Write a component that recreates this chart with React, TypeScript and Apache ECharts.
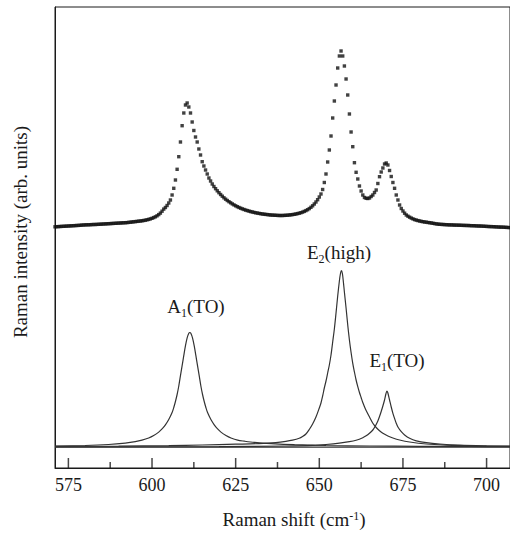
import React, { useEffect, useRef } from "react";
import * as echarts from "echarts";

// ---- Measured Raman spectrum (dots), x grid 571..707 cm-1 every 0.5 cm-1 ----
const measuredStart = 571;
const measuredStep = 0.5;
const measuredIntensity = [
  241.2, 241.3, 241.4, 241.5, 241.6, 241.7, 241.8, 241.9, 242.0, 242.1,
  242.2, 242.3, 242.4, 242.5, 242.6, 242.7, 242.9, 243.0, 243.1, 243.2,
  243.2, 243.3, 243.4, 243.5, 243.5, 243.6, 243.7, 243.8, 243.9, 244.0,
  244.1, 244.2, 244.3, 244.4, 244.5, 244.6, 244.7, 244.8, 244.9, 245.0,
  245.1, 245.2, 245.3, 245.4, 245.6, 245.8, 246.0, 246.2, 246.4, 246.6,
  246.8, 247.0, 247.2, 247.5, 247.8, 248.2, 248.6, 249.1, 249.7, 250.4,
  251.2, 252.2, 253.4, 254.9, 256.8, 258.9, 260.5, 262.5, 265.0, 268.0,
  273.0, 279.7, 288.0, 298.7, 311.3, 326.0, 342.3, 355.0, 363.0, 365.0,
  361.0, 355.0, 346.0, 337.5, 331.0, 326.0, 319.0, 313.0, 306.3, 302.0,
  298.0, 294.0, 290.0, 287.0, 284.0, 281.5, 279.3, 277.2, 275.3, 273.5,
  271.8, 270.2, 268.8, 267.5, 266.3, 265.2, 264.1, 263.1, 262.2, 261.3,
  260.5, 259.8, 259.1, 258.5, 257.9, 257.4, 256.9, 256.4, 256.0, 255.6,
  255.2, 254.9, 254.6, 254.3, 254.0, 253.8, 253.6, 253.4, 253.2, 253.0,
  252.9, 252.8, 252.7, 252.6, 252.5, 252.5, 252.5, 252.6, 252.7, 252.8,
  253.0, 253.2, 253.4, 253.7, 254.0, 254.4, 254.8, 255.3, 255.9, 256.6,
  257.4, 258.3, 259.4, 260.7, 262.2, 264.0, 266.0, 268.3, 271.0, 274.0,
  278.5, 285.5, 294.0, 306.0, 318.0, 332.0, 350.0, 367.0, 383.0, 400.0,
  412.0, 417.0, 412.0, 402.0, 389.0, 373.0, 354.0, 336.0, 321.3, 305.3,
  295.7, 289.0, 282.0, 277.0, 273.0, 270.5, 269.7, 269.5, 270.0, 271.5,
  273.0, 275.5, 278.0, 284.5, 291.3, 296.0, 300.0, 304.0, 305.0, 303.0,
  297.5, 291.5, 285.5, 279.7, 273.0, 268.0, 263.0, 259.5, 257.0, 254.8,
  253.0, 251.8, 250.8, 249.9, 249.1, 248.4, 247.9, 247.4, 247.0, 246.6,
  246.3, 246.0, 245.8, 245.5, 245.3, 245.0, 244.7, 244.4, 244.1, 243.9,
  243.7, 243.6, 243.5, 243.4, 243.3, 243.2, 243.1, 243.1, 243.0, 242.9,
  242.9, 242.8, 242.8, 242.7, 242.6, 242.6, 242.5, 242.5, 242.4, 242.3,
  242.3, 242.2, 242.1, 242.0, 242.0, 241.9, 241.8, 241.7, 241.6, 241.5,
  241.4, 241.4, 241.3, 241.2, 241.1, 241.0, 240.9, 240.9, 240.8, 240.7,
  240.6, 240.5, 240.4,
];

// ---- Fitted components: [Raman shift, intensity] ----
const a1Fit: [number, number][] = [
  [571, 21.9], [580, 22.5], [587, 23.5], [592, 24.9], [595, 26.3], [597, 27.8],
  [599, 30.0], [600.5, 32.5], [602, 35.9], [603, 39.1], [604, 43.2], [605, 48.5],
  [606, 55.5], [606.5, 60.5], [607, 66.5], [607.5, 73.5], [608, 82.0], [608.5, 92.3],
  [609, 102.3], [609.5, 112.6], [610, 122.3], [610.5, 130.1], [611, 134.7], [611.3, 135.5],
  [611.6, 134.7], [612.1, 130.1], [612.6, 122.3], [613.1, 112.6], [613.6, 102.3], [614.1, 92.3],
  [614.6, 82.0], [615.1, 73.5], [615.6, 66.5], [616.1, 60.5], [616.6, 55.5], [617.6, 48.5],
  [618.6, 43.2], [619.6, 39.1], [620.6, 35.9], [622.1, 32.5], [623.6, 30.0], [625.6, 27.8],
  [627.6, 26.8], [630.6, 25.6], [635.6, 24.4], [642.6, 23.3], [652, 22.5], [665, 22.0],
  [680, 21.7], [695, 21.5], [707, 21.4],
];
const e2Fit: [number, number][] = [
  [571, 21.6], [590, 21.9], [605, 22.4], [615, 23.0], [625, 23.8], [632, 24.4],
  [637, 25.4], [640, 26.6], [642, 27.8], [644, 29.7], [645, 31.5], [646, 34.0],
  [647, 38.5], [648, 44.0], [649, 51.0], [650, 60.0], [650.5, 65.0], [651, 72.0],
  [651.5, 80.0], [652, 87.0], [652.5, 95.0], [653, 103.0], [653.5, 113.0], [654, 126.0],
  [654.5, 139.0], [655, 155.0], [655.5, 172.0], [656, 187.0], [656.3, 194.0], [656.6, 197.3],
  [656.9, 194.5], [657.2, 186.0], [657.5, 176.0], [658, 160.0], [658.5, 143.0], [659, 128.0],
  [659.5, 115.5], [660, 104.7], [660.5, 96.0], [661, 88.0], [661.5, 81.3], [662, 75.5],
  [662.5, 70.5], [663, 65.5], [663.5, 61.3], [664, 57.5], [665, 51.0], [666, 44.7],
  [667, 40.5], [668, 37.3], [669, 34.7], [670.5, 32.0], [672, 30.0], [674, 28.0],
  [677, 26.0], [682, 24.0], [688, 22.9], [695, 22.2], [707, 21.7],
];
const e1Fit: [number, number][] = [
  [571, 21.1], [620, 21.4], [640, 22.0], [648, 22.6], [652, 23.5], [656, 24.8],
  [659, 26.3], [661, 27.8], [663, 30.3], [664, 32.2], [665, 34.8], [666, 38.0],
  [666.5, 40.5], [667, 43.5], [667.5, 47.0], [668, 51.5], [668.5, 56.5], [669, 62.0],
  [669.5, 68.0], [669.9, 74.0], [670.2, 77.0], [670.5, 75.0], [671, 68.0], [671.5, 61.0],
  [672, 54.7], [672.5, 49.5], [673, 44.7], [673.5, 41.0], [674.5, 36.3], [675.5, 33.0],
  [677, 29.7], [679, 27.2], [682, 25.3], [686, 24.0], [692, 22.9], [700, 22.2], [707, 21.8],
];
const fitBaseline: [number, number][] = [[571, 20.8], [707, 20.8]];

// axis extents (cm-1) and tick values
const shiftMin = 571;
const shiftMax = 707;
const majorTicks = [575, 600, 625, 650, 675, 700];
const minorTicks = [587.5, 612.5, 637.5, 662.5, 687.5];

const FONT = "'Liberation Serif', 'Times New Roman', serif";
const INK = "#1a1a1a";

export default function App() {
  const ref = useRef<HTMLDivElement>(null);
  useEffect(() => {
    if (!ref.current) return;
    const chart = echarts.init(ref.current, undefined, { renderer: "svg" });
    const measured = measuredIntensity.map((v, i) => [measuredStart + i * measuredStep, v]);
    const lineStyle = { color: "#333", width: 1.2 };
    const sub = { fontSize: 12, lineHeight: 12, fontFamily: FONT, fill: INK, color: INK, verticalAlign: "top", padding: [10, 0, 0, 0] };
    const norm = { fontSize: 19, lineHeight: 19, fontFamily: FONT, fill: INK, color: INK, verticalAlign: "middle" };

    chart.setOption({
      animation: false,
      backgroundColor: "#fff",
      grid: { left: 55, top: 7, width: 456, height: 461, show: true, borderColor: INK, borderWidth: 1 },
      xAxis: {
        type: "value", min: shiftMin, max: shiftMax, position: "bottom",
        axisLine: { show: true, lineStyle: { color: INK, width: 1 } },
        axisTick: { show: false },
        axisLabel: { customValues: majorTicks, fontFamily: FONT, fontSize: 18, color: INK, margin: 8 },
        splitLine: { show: false },
      },
      yAxis: {
        type: "value", min: 0, max: 461,
        axisLine: { show: true, lineStyle: { color: INK } },
        axisTick: { show: false }, axisLabel: { show: false }, splitLine: { show: false },
      },
      series: [
        { type: "line", data: fitBaseline, symbol: "none", lineStyle },
        { type: "line", data: a1Fit, symbol: "none", smooth: 0.3, lineStyle },
        { type: "line", data: e2Fit, symbol: "none", smooth: 0.3, lineStyle },
        { type: "line", data: e1Fit, symbol: "none", smooth: 0.3, lineStyle },
        { type: "scatter", data: measured, symbol: "rect", symbolSize: 3.4, itemStyle: { color: "#111" } },
        // inward major / minor tick marks on the bottom axis
        {
          type: "scatter", silent: true, clip: false,
          data: majorTicks.map((v) => [v, 0]),
          symbol: "rect", symbolSize: [1.5, 10], symbolOffset: [0, -5],
          itemStyle: { color: INK },
        },
        {
          type: "scatter", silent: true, clip: false,
          data: minorTicks.map((v) => [v, 0]),
          symbol: "rect", symbolSize: [1.5, 6], symbolOffset: [0, -3],
          itemStyle: { color: INK },
        },
      ],
      graphic: [
        {
          type: "text", x: 196, y: 306,
          style: { text: "{n|A}{s|1}{n|(TO)}", align: "center", verticalAlign: "middle", rich: { n: norm, s: sub } },
        },
        {
          type: "text", x: 339, y: 252,
          style: { text: "{n|E}{s|2}{n|(high)}", align: "center", verticalAlign: "middle", rich: { n: norm, s: sub } },
        },
        {
          type: "text", x: 397, y: 360,
          style: { text: "{n|E}{s|1}{n|(TO)}", align: "center", verticalAlign: "middle", rich: { n: norm, s: sub } },
        },
        {
          type: "text", x: 294, y: 519,
          style: {
            text: "{n|Raman shift (cm}{p|-1}{n|)}", align: "center", verticalAlign: "middle",
            rich: { n: norm, p: { fontSize: 12, lineHeight: 12, fontFamily: FONT, fill: INK, color: INK, verticalAlign: "top", padding: [0, 0, 9, 0] } },
          },
        },
        {
          type: "text", x: 20, y: 232, rotation: Math.PI / 2,
          style: { text: "Raman intensity (arb. units)", align: "center", verticalAlign: "middle", font: `19px ${FONT}`, fill: INK },
        },
      ],
    });

    return () => chart.dispose();
  }, []);
  return <div ref={ref} style={{ position: "absolute", left: 0, top: 0, width: 510, height: 534 }} />;
}
